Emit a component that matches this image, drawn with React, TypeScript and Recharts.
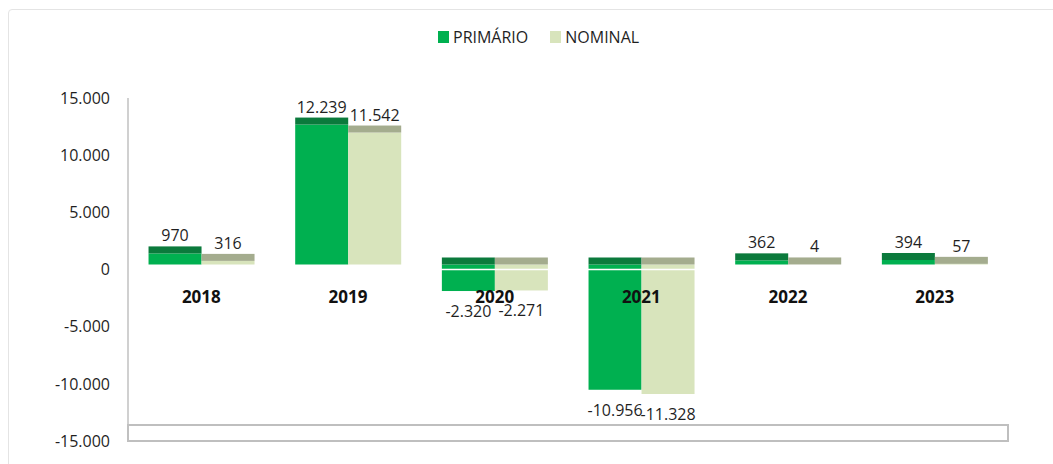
import { BarChart, Bar, XAxis, YAxis, LabelList, ReferenceLine, ReferenceArea } from "recharts"

// valores (R$ milhões)
const years = ["2018", "2019", "2020", "2021", "2022", "2023"]
const primario = [970, 12239, -2320, -10956, 362, 394]
const nominal = [316, 11542, -2271, -11328, 4, 57]
const yTicks = [-15000, -10000, -5000, 0, 5000, 10000, 15000]
const seriesNames = ["PRIMÁRIO", "NOMINAL"]

const data = years.map((year, i) => ({ year, primario: primario[i], nominal: nominal[i] }))

const W = 1053
const H = 464
const TOP = 98
const XAXIS_H = 23
const Y_MIN = -15000
const Y_MAX = 15000
const ZERO_Y = TOP + ((H - TOP - XAXIS_H) * Y_MAX) / (Y_MAX - Y_MIN)

const FONT = "'Open Sans', 'Noto Sans', sans-serif"
const DEPTH = 7 // face superior "3D"
const LIFT = 5

const colors = {
  primario: { front: "#00B050", top: "#0B7A3C" },
  nominal: { front: "#D8E4BC", top: "#A4AC8E" },
}

const fmt = (v: number) =>
  (v < 0 ? "-" : "") + Math.abs(v).toString().replace(/\B(?=(\d{3})+(?!\d))/g, ".")

function makeShape(front: string, top: string) {
  return (props: any) => {
    const { x, y, width, height } = props
    const t = Math.min(y, y + height) - LIFT
    const h = Math.abs(height)
    return (
      <g>
        <rect x={x} y={t} width={width} height={h} fill={front} />
        <rect x={x} y={t - DEPTH} width={width} height={DEPTH} fill={top} />
      </g>
    )
  }
}

function renderLabel(props: any) {
  const { x, y, width, height, value } = props
  const t = Math.min(y, y + height) - LIFT
  const b = Math.max(y, y + height) - LIFT
  const cy = value >= 0 ? t - DEPTH - 11 : b + 20
  return (
    <text x={x + width / 2} y={cy} textAnchor="middle" dominantBaseline="central"
      fontFamily={FONT} fontSize={16} fill="#1f1f1f">
      {fmt(value)}
    </text>
  )
}

function YearTick(props: any) {
  const { x, payload } = props
  return (
    <text x={x} y={ZERO_Y + 27} textAnchor="middle" dominantBaseline="central"
      fontFamily={FONT} fontSize={17} fontWeight="bold" fill="#111">
      {payload.value}
    </text>
  )
}

export default function App() {
  return (
    <div style={{ position: "absolute", left: 0, top: 0, width: W, height: H, background: "#fff", overflow: "hidden" }}>
      <div style={{ position: "absolute", left: 8, top: 9, width: W + 20, height: H + 20, border: "1px solid #e4e4e4", borderRadius: 4 }} />
      <div style={{ position: "absolute", left: 438, top: 26, display: "flex", alignItems: "center", fontFamily: FONT, fontSize: 16, color: "#1f1f1f" }}>
        {seriesNames.map((name, i) => (
          <div key={name} style={{ display: "flex", alignItems: "center", marginRight: i === 0 ? 22 : 0 }}>
            <span style={{ width: 11, height: 12, marginRight: 4, background: i === 0 ? colors.primario.front : colors.nominal.front }} />
            <span>{name}</span>
          </div>
        ))}
      </div>
      <div style={{ position: "absolute", left: 0, top: 0 }}>
        <BarChart width={W} height={H} data={data} margin={{ top: TOP, right: 45, bottom: 0, left: 0 }}
          barCategoryGap="14%" barGap={0}>
          <ReferenceArea y1={Y_MIN} y2={-13600} fill="none" stroke="#bfbfbf" strokeWidth={2} />
          <XAxis dataKey="year" height={XAXIS_H} axisLine={false} tickLine={false} tick={<YearTick />} interval={0} />
          <YAxis width={128} domain={[Y_MIN, Y_MAX]} ticks={yTicks} tickFormatter={fmt}
            axisLine={{ stroke: "#c0c0c0", strokeWidth: 1.5 }} tickLine={false} tickSize={0} tickMargin={18}
            tick={{ fontFamily: FONT, fontSize: 16, fill: "#1f1f1f" }} />
          <Bar dataKey="primario" name={seriesNames[0]} isAnimationActive={false}
            shape={makeShape(colors.primario.front, colors.primario.top)}>
            <LabelList dataKey="primario" content={renderLabel} />
          </Bar>
          <Bar dataKey="nominal" name={seriesNames[1]} isAnimationActive={false}
            shape={makeShape(colors.nominal.front, colors.nominal.top)}>
            <LabelList dataKey="nominal" content={renderLabel} />
          </Bar>
          <ReferenceLine y={0} stroke="#ffffff" strokeWidth={1.5} />
        </BarChart>
      </div>
    </div>
  )
}
